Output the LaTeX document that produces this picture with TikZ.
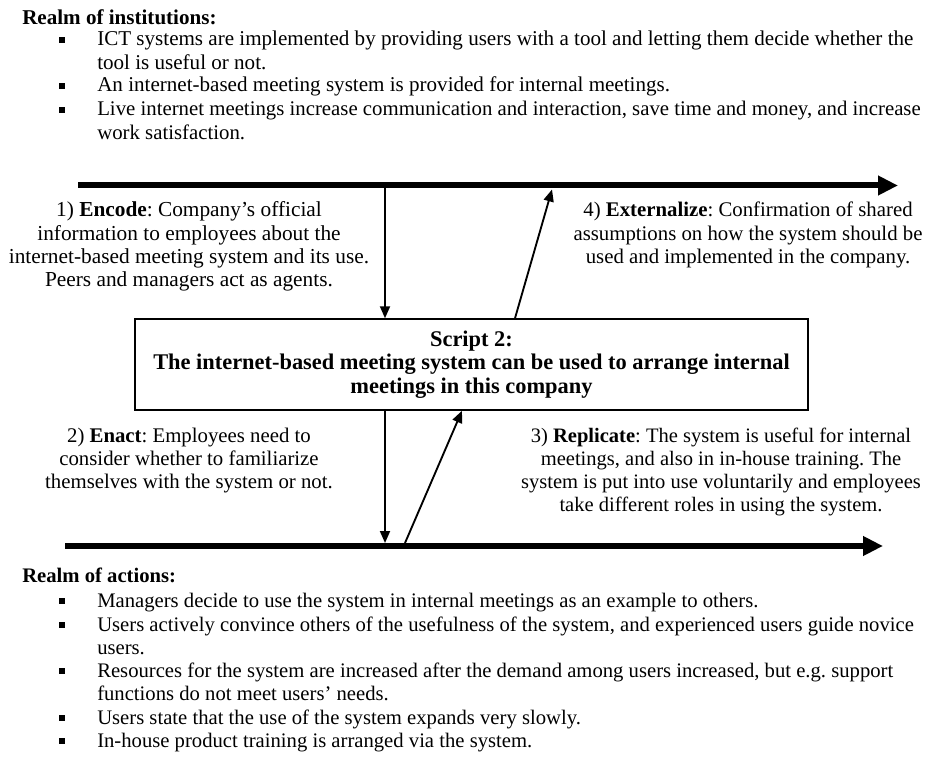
\documentclass[tikz,border=0pt]{standalone}
\usepackage{fontspec}
\setmainfont{Liberation Serif}
\usetikzlibrary{arrows.meta}
\frenchspacing

\tikzset{
  txt/.style={inner sep=0pt, anchor=base, font=\fontsize{15.6}{17.4}\selectfont},
  item/.style={txt, anchor=base west},
  topitem/.style={item, font=\fontsize{15.8}{17.4}\selectfont},
  botitem/.style={item, font=\fontsize{15.5}{17.4}\selectfont},
  bullet/.style={fill=black, inner sep=0pt, minimum width=4.5pt, minimum height=5pt},
  realm/.style={line width=4.5pt, -{Triangle[length=15pt,width=14pt]}},
  flow/.style={line width=1.4pt, -{Triangle[length=9pt,width=7.5pt]}},
  scriptbox/.style={draw, line width=1.1pt, align=center, inner sep=0pt,
    minimum width=504.75pt, minimum height=68.25pt,
    font=\fontsize{16.8}{17.6}\selectfont\bfseries}
}

\begin{document}
\begin{tikzpicture}[x=0.75pt, y=-0.75pt]
\useasboundingbox (0,0) rectangle (939,763);

% realm of institutions
\node[topitem] (inst) at (22,25) {\textbf{Realm of institutions:}};
\node[topitem] (i1) at (97,46) {\begin{tabular}[t]{@{}l@{}}
    ICT systems are implemented by providing users with a tool and letting them decide whether the\\
    tool is useful or not.\end{tabular}};
\node[topitem] (i2) at (97,92) {An internet-based meeting system is provided for internal meetings.};
\node[topitem, font=\fontsize{15.6}{17.4}\selectfont] (i3) at (97,116) {\begin{tabular}[t]{@{}l@{}}
    Live internet meetings increase communication and interaction, save time and money, and increase\\
    work satisfaction.\end{tabular}};
\foreach \n in {i1,i2,i3}
  \node[bullet] (b-\n) at ([xshift=-26.25pt, yshift=4.5pt]\n.base west) {};

% the two realms
\coordinate (instL) at (78,185.5);
\coordinate (instR) at (898,185.5);
\coordinate (actL) at (65,546);
\coordinate (actR) at (883,546);
\draw[realm] (instL) -- (instR);
\draw[realm] (actL) -- (actR);

% script
\node[scriptbox] (script) at (471.5,364.5) {Script 2:\\
  The internet-based meeting system can be used to arrange internal\\
  meetings in this company};

% the four steps
\node[txt, font=\fontsize{16}{17.4}\selectfont] (encode) at (189,217) {\begin{tabular}[t]{@{}c@{}}
    1) \textbf{Encode}: Company's official\\
    information to employees about the\\
    internet-based meeting system and its use.\\
    Peers and managers act as agents.\end{tabular}};
\node[txt] (extern) at (748,217) {\begin{tabular}[t]{@{}c@{}}
    4) \textbf{Externalize}: Confirmation of shared\\
    assumptions on how the system should be\\
    used and implemented in the company.\end{tabular}};
\node[txt] (enact) at (189,442) {\begin{tabular}[t]{@{}c@{}}
    2) \textbf{Enact}: Employees need to\\
    consider whether to familiarize\\
    themselves with the system or not.\end{tabular}};
\node[txt, font=\fontsize{15.4}{17.4}\selectfont] (repl) at (721,442) {\begin{tabular}[t]{@{}c@{}}
    3) \textbf{Replicate}: The system is useful for internal\\
    meetings, and also in in-house training. The\\
    system is put into use voluntarily and employees\\
    take different roles in using the system.\end{tabular}};

\coordinate (encTop) at (385,188.5);
\coordinate (extTop) at (552,189.5);
\coordinate (extFoot) at (515,0);
\coordinate (enaFoot) at (385,543);
\coordinate (repFoot) at (405,543);
\coordinate (repTop) at (462,0);
\draw[flow] (encTop) -- (encTop |- script.north);
\draw[flow] (extFoot |- script.north) -- (extTop);
\draw[flow] (enaFoot |- script.south) -- (enaFoot);
\draw[flow] (repFoot) -- (repTop |- script.south);

% realm of actions
\node[botitem] (act) at (22,582) {\textbf{Realm of actions:}};
\node[botitem] (a1) at (97,607) {Managers decide to use the system in internal meetings as an example to others.};
\node[botitem] (a2) at (97,631) {\begin{tabular}[t]{@{}l@{}}
    Users actively convince others of the usefulness of the system, and experienced users guide novice\\
    users.\end{tabular}};
\node[botitem] (a3) at (97,677) {\begin{tabular}[t]{@{}l@{}}
    Resources for the system are increased after the demand among users increased, but e.g. support\\
    functions do not meet users' needs.\end{tabular}};
\node[botitem] (a4) at (97,724) {Users state that the use of the system expands very slowly.};
\node[botitem] (a5) at (97,747) {In-house product training is arranged via the system.};
\foreach \n in {a1,a2,a3,a4,a5}
  \node[bullet] (b-\n) at ([xshift=-26.25pt, yshift=4.5pt]\n.base west) {};
\end{tikzpicture}
\end{document}
